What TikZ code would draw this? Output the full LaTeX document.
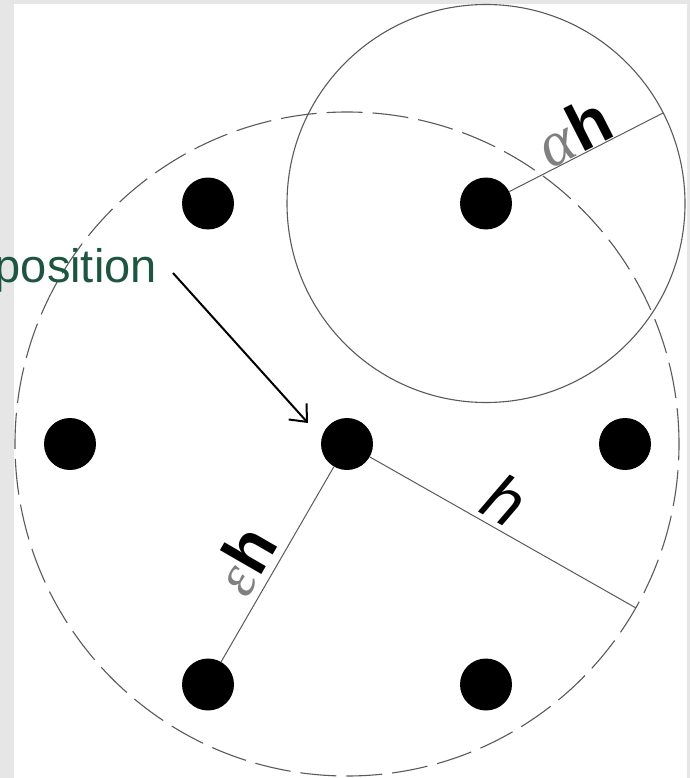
\documentclass[tikz,border=0pt]{standalone}
\usepackage{fontspec}
\setmainfont{Liberation Sans}
\newfontfamily\greekfont{Liberation Serif}
\usetikzlibrary{arrows.meta}
\definecolor{bggray}{HTML}{E6E6E6}
\definecolor{posgreen}{RGB}{30,85,65}
\definecolor{linegray}{HTML}{5A5A5A}
\begin{document}
\begin{tikzpicture}[x=1pt,y=-1pt,
  dotnode/.style={circle,fill=black,inner sep=0pt,minimum size=52pt},
  ring/.style={draw=linegray,line width=1.1pt},
  dashring/.style={draw=linegray,line width=1.1pt,dash pattern=on 36pt off 10pt},
  radius line/.style={draw=linegray,line width=1pt},
  biglabel/.style={font=\fontsize{66}{68}\selectfont,inner sep=0pt}]
\fill[bggray] (0,0) rectangle (690,778);
\fill[white] (14,4) rectangle (687,778);
\useasboundingbox (0,0) rectangle (690,778);

% circles
\draw[dashring] (347,444) circle[radius=332pt];
\draw[ring] (486,203.5) circle[radius=199pt];

% free ends of radius lines
\coordinate (hend) at (636,608);
\coordinate (aend) at (663,113);

% dots
\node[dotnode] (tl) at (208,203.5) {};
\node[dotnode] (tr) at (486,203.5) {};
\node[dotnode] (ml) at (70,444) {};
\node[dotnode] (c)  at (347,444) {};
\node[dotnode] (mr) at (625,444) {};
\node[dotnode] (bl) at (208,684.5) {};
\node[dotnode] (br) at (486,684.5) {};

% radius lines
\draw[radius line] (c) -- (hend);
\draw[radius line] (tr) -- (aend);
\draw[radius line] (c) -- (bl);

% labels
\node[biglabel,rotate=-29.6] (lh) at (505,500) {\itshape h};
\node[biglabel,rotate=27] (lah) at (573,131) {{\greekfont\itshape\fontsize{64}{66}\selectfont\color{black!50}α}\kern1pt\textbf{h}};
\node[biglabel,rotate=60] (leh) at (243,560) {{\greekfont\itshape\fontsize{60}{62}\selectfont\color{black!50}ε}\kern1pt\textbf{h}};

% position label and arrow
\node[anchor=base east,text=posgreen,font=\fontsize{47}{50}\selectfont,inner sep=0pt] (pos) at (157,282) {position};
\coordinate (as) at (173,273);
\coordinate (ae) at (308,423);
\draw[line width=2pt,-{Straight Barb[length=14pt,width=24pt]}] (as) -- (ae);
\end{tikzpicture}
\end{document}
